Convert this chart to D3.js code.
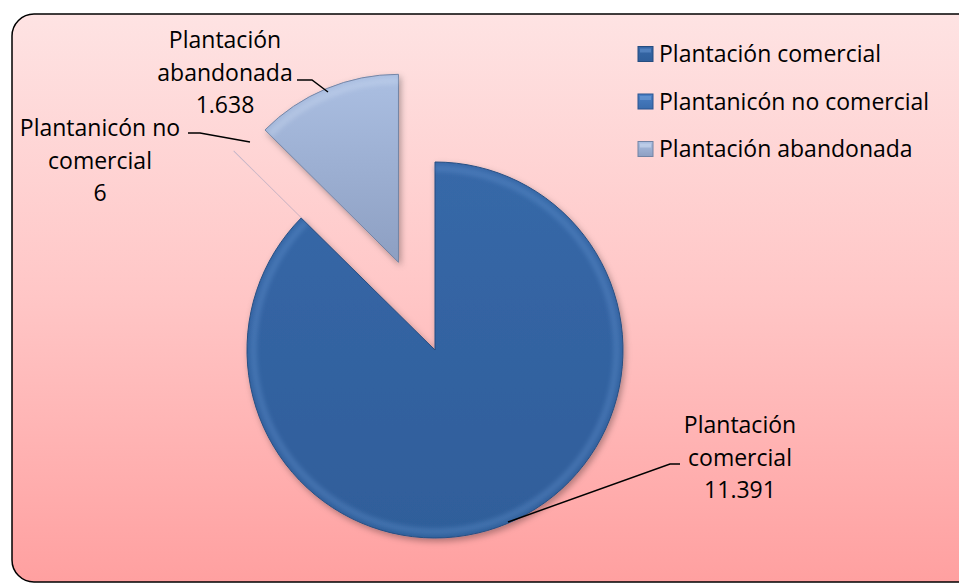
<!DOCTYPE html>
<html>
<head>
<meta charset="utf-8">
<script src="https://cdn.jsdelivr.net/npm/d3@7"></script>
<style>
  html, body { margin: 0; padding: 0; background: #fff; }
  svg { display: block; font-family: "Open Sans", "Noto Sans", sans-serif; }
</style>
</head>
<body>
<svg id="chart" width="959" height="583"></svg>
<script>
// ── Data ────────────────────────────────────────────────────────────────
const categories = ["Plantación comercial", "Plantanicón no comercial", "Plantación abandonada"];
const values     = [11391, 6, 1638];
const valueText  = ["11.391", "6", "1.638"];
const labelLines = [
  ["Plantación", "comercial"],
  ["Plantanicón no", "comercial"],
  ["Plantación", "abandonada"]
];

const VW = 959, VH = 583;
const svg  = d3.select("#chart").attr("viewBox", `0 0 ${VW} ${VH}`);
const defs = svg.append("defs");

// Background gradient
const bg = defs.append("linearGradient").attr("id", "bg").attr("x1", 0).attr("y1", 0).attr("x2", 0).attr("y2", 1);
bg.append("stop").attr("offset", "0%").attr("stop-color", "#fee3e3");
bg.append("stop").attr("offset", "50%").attr("stop-color", "#ffc6c6");
bg.append("stop").attr("offset", "100%").attr("stop-color", "#ffa0a0");

// Slice fills
const fills = [
  { id: "g0", top: "#3768a8", bot: "#2f5e9a", edge: "#254d80", hi: "#6b9ad6" },
  { id: "g1", top: "#4a7fc4", bot: "#3a6cad", edge: "#2b5590", hi: "#7aa6de" },
  { id: "g2", top: "#abbfe2", bot: "#8d9fc2", edge: "#7283a4", hi: "#d3e0f4" }
];
fills.forEach(f => {
  const lg = defs.append("linearGradient").attr("id", f.id).attr("x1", 0).attr("y1", 0).attr("x2", 0).attr("y2", 1);
  lg.append("stop").attr("offset", "0%").attr("stop-color", f.top);
  lg.append("stop").attr("offset", "100%").attr("stop-color", f.bot);
});

const shadow = defs.append("filter").attr("id", "shadow")
  .attr("x", "-20%").attr("y", "-20%").attr("width", "140%").attr("height", "140%");
shadow.append("feDropShadow").attr("dx", 2).attr("dy", 3).attr("stdDeviation", 3)
  .attr("flood-color", "#000").attr("flood-opacity", 0.3);

const soft = defs.append("filter").attr("id", "soft");
soft.append("feGaussianBlur").attr("stdDeviation", 2);

// Chart area box
svg.append("rect")
  .attr("x", 12).attr("y", 14).attr("width", 968).attr("height", 568)
  .attr("rx", 22).attr("ry", 22)
  .attr("fill", "url(#bg)").attr("stroke", "#000").attr("stroke-width", 1.5);

// ── Pie ─────────────────────────────────────────────────────────────────
const cx = 435, cy = 350, R = 188;
const explode = [0, 95, 95];

const pie = d3.pie().sort(null).value(d => d);
const arcs = pie(values);
const arc = d3.arc().innerRadius(0).outerRadius(R);
const rim = d3.arc().innerRadius(R - 10).outerRadius(R - 3);

const offset = (d, i) => {
  const m = (d.startAngle + d.endAngle) / 2;
  return [Math.sin(m) * explode[i], -Math.cos(m) * explode[i]];
};

const gPie = svg.append("g").attr("transform", `translate(${cx},${cy})`);
arcs.forEach((d, i) => {
  const [ox, oy] = offset(d, i);
  const s = gPie.append("g").attr("transform", `translate(${ox},${oy})`);
  s.append("path").attr("d", arc(d))
    .attr("fill", `url(#${fills[i].id})`)
    .attr("stroke", fills[i].edge).attr("stroke-width", i === 1 ? 0.3 : 1)
    .attr("opacity", i === 1 ? 0.35 : 1)
    .attr("filter", i === 1 ? null : "url(#shadow)");
  if (i !== 1) {
    // soft bevel highlight along the outer rim
    s.append("path").attr("d", rim(d))
      .attr("fill", fills[i].hi).attr("opacity", 0.3).attr("filter", "url(#soft)");
  }
});

// ── Data labels ─────────────────────────────────────────────────────────
const labels = [
  { x: 740, y: 425, leader: [[680, 464], [670, 464], [508, 522]] },
  { x: 100, y: 128, leader: [[188, 133], [200, 133], [250, 142]] },
  { x: 225, y: 40,  leader: [[297, 80], [312, 80], [328, 92]] }
];
const lineH = 32.5;
labels.forEach((l, i) => {
  const t = svg.append("text").attr("text-anchor", "middle")
    .attr("font-size", 23).attr("fill", "#000");
  [...labelLines[i], valueText[i]].forEach((s, k) => {
    t.append("tspan").attr("x", l.x).attr("y", l.y + k * lineH).attr("dy", "0.35em").text(s);
  });
  svg.append("path").attr("d", d3.line()(l.leader))
    .attr("fill", "none").attr("stroke", "#000").attr("stroke-width", 1.5);
});

// ── Legend ──────────────────────────────────────────────────────────────
const leg = svg.append("g").attr("transform", "translate(638,54)");
categories.forEach((c, i) => {
  const row = leg.append("g").attr("transform", `translate(0,${i * 47.5})`);
  row.append("rect").attr("x", 0).attr("y", -7.5).attr("width", 15).attr("height", 15)
    .attr("fill", `url(#${fills[i].id})`).attr("stroke", fills[i].edge).attr("stroke-width", 1);
  row.append("rect").attr("x", 2).attr("y", -5.5).attr("width", 11).attr("height", 4)
    .attr("fill", fills[i].hi).attr("opacity", 0.5);
  row.append("text").attr("x", 21).attr("dy", "0.35em")
    .attr("font-size", 23).attr("fill", "#000").text(c);
});
</script>
</body>
</html>
